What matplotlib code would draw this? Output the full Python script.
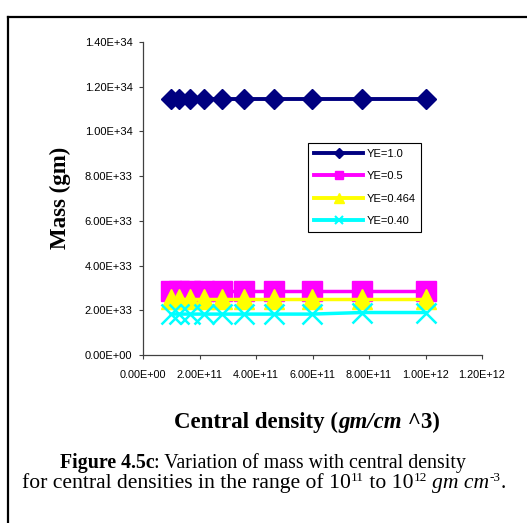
import matplotlib
matplotlib.use("Agg")
import matplotlib.pyplot as plt
from matplotlib.lines import Line2D

# ---- data ----
density = [1.0e11, 1.29e11, 1.67e11, 2.15e11, 2.78e11, 3.59e11, 4.64e11, 5.99e11, 7.74e11, 1.0e12]
mass_ye_100 = [1.145e34, 1.145e34, 1.145e34, 1.145e34, 1.145e34, 1.145e34, 1.145e34, 1.145e34, 1.145e34, 1.145e34]
mass_ye_050 = [2.87e33, 2.87e33, 2.87e33, 2.87e33, 2.87e33, 2.87e33, 2.87e33, 2.87e33, 2.87e33, 2.87e33]
mass_ye_0464 = [2.52e33, 2.52e33, 2.52e33, 2.52e33, 2.52e33, 2.52e33, 2.52e33, 2.52e33, 2.52e33, 2.52e33]
mass_ye_040 = [1.83e33, 1.83e33, 1.83e33, 1.83e33, 1.83e33, 1.83e33, 1.83e33, 1.83e33, 1.90e33, 1.90e33]
series_labels = ["YE=1.0", "YE=0.5", "YE=0.464", "YE=0.40"]

x_ticks = [0, 2e11, 4e11, 6e11, 8e11, 1e12, 1.2e12]
x_tick_labels = ["0.00E+00", "2.00E+11", "4.00E+11", "6.00E+11", "8.00E+11", "1.00E+12", "1.20E+12"]
y_ticks = [0, 2e33, 4e33, 6e33, 8e33, 1e34, 1.2e34, 1.4e34]
y_tick_labels = ["0.00E+00", "2.00E+33", "4.00E+33", "6.00E+33", "8.00E+33", "1.00E+34", "1.20E+34", "1.40E+34"]

W, H = 527, 523
fig = plt.figure(figsize=(W / 100, H / 100), dpi=100)
fig.patch.set_facecolor("white")

ax = fig.add_axes([143 / W, 1 - 355 / H, (482 - 143) / W, (355 - 42) / H])
ax.set_xlim(0, 1.2e12)
ax.set_ylim(0, 1.4e34)
for s in ("top", "right"):
    ax.spines[s].set_visible(False)
for s in ("left", "bottom"):
    ax.spines[s].set_color("#404040")
    ax.spines[s].set_linewidth(0.9)

navy, magenta, yellow, cyan = "#000080", "#ff00ff", "#ffff00", "#00ffff"

ax.plot(density, mass_ye_100, color=navy, lw=2.8, marker="D", ms=10.5,
        mfc=navy, mec=navy, zorder=3, clip_on=False)
ax.plot(density, mass_ye_050, color=magenta, lw=2.5, marker="s", ms=14,
        mfc=magenta, mec=magenta, zorder=4, clip_on=False)
ax.plot(density, mass_ye_0464, color=yellow, lw=2.5, marker="^", ms=14,
        mfc=yellow, mec=yellow, zorder=5, clip_on=False)
ax.plot(density, mass_ye_040, color=cyan, lw=2.5, marker="x", ms=14,
        mew=1.8, mfc=cyan, mec=cyan, zorder=6, clip_on=False)

ax.set_xticks(x_ticks)
ax.set_xticklabels(x_tick_labels, fontfamily="Liberation Sans", fontsize=7.8)
ax.set_yticks(y_ticks)
ax.set_yticklabels(y_tick_labels, fontfamily="Liberation Sans", fontsize=8)
ax.tick_params(axis="y", direction="out", length=3, width=0.8, pad=4.5, color="#404040")
ax.tick_params(axis="x", direction="out", length=3, width=0.8, pad=8, color="#404040")

handles = [
    Line2D([], [], color=navy, lw=2.8, marker="D", ms=5, mfc=navy, mec=navy),
    Line2D([], [], color=magenta, lw=2.8, marker="s", ms=5.5, mfc=magenta, mec=magenta),
    Line2D([], [], color=yellow, lw=2.8, marker="^", ms=6.5, mfc=yellow, mec=yellow),
    Line2D([], [], color=cyan, lw=2.8, marker="x", ms=6, mew=1.5, mfc=cyan, mec=cyan),
]
leg = ax.legend(handles, series_labels, loc="upper left",
                bbox_to_anchor=((308 - 143) / (482 - 143), (355 - 143) / (355 - 42)),
                frameon=True, fancybox=False, edgecolor="black", framealpha=1,
                prop={"family": "Liberation Sans", "size": 8}, handlelength=4.4,
                handletextpad=0.3, labelspacing=1.1, borderpad=0.55, borderaxespad=0)
leg.get_frame().set_linewidth(0.8)

def fx(px):
    return px / W

def fy(py):
    return 1 - py / H

# Axis titles
fig.text(fx(60), fy(198), "Mass (gm)", rotation=90, ha="center", va="center",
         fontfamily="Liberation Serif", fontweight="bold", fontsize=16.5)

renderer = fig.canvas.get_renderer()

def rich_line(xc, y_base, pieces):
    objs = []
    for txt, kw in pieces:
        kw = dict(kw)
        dy = kw.pop("dy", 0)
        t = fig.text(0, fy(y_base - dy), txt, va="baseline", ha="left",
                     fontfamily="Liberation Serif", **kw)
        objs.append(t)
    widths = [o.get_window_extent(renderer).width for o in objs]
    total = sum(widths)
    x = xc - total / 2
    for o, w in zip(objs, widths):
        o.set_x(fx(x))
        x += w

rich_line(307, 428, [
    ("Central density (", dict(fontsize=16.5, fontweight="bold")),
    ("gm/cm", dict(fontsize=16.5, fontweight="bold", fontstyle="italic")),
    (" ^3)", dict(fontsize=16.5, fontweight="bold")),
])

cap1 = 14.3
cap2 = 15.6
sup = 9.5
rich_line(263, 468, [
    ("Figure 4.5c", dict(fontsize=cap1, fontweight="bold")),
    (": Variation of mass with central density", dict(fontsize=cap1)),
])
rich_line(264, 488, [
    ("for central densities in the range of 10", dict(fontsize=cap2)),
    ("11", dict(fontsize=sup, dy=7)),
    (" to 10", dict(fontsize=cap2)),
    ("12", dict(fontsize=sup, dy=7)),
    (" ", dict(fontsize=cap2)),
    ("gm cm", dict(fontsize=cap2, fontstyle="italic")),
    ("-3", dict(fontsize=sup, dy=7)),
    (".", dict(fontsize=cap2)),
])

# Page border (left and top)
fig.add_artist(Line2D([fx(8), fx(8)], [fy(17), 0], transform=fig.transFigure,
                      color="black", lw=1.6))
fig.add_artist(Line2D([fx(8), 1], [fy(17), fy(17)], transform=fig.transFigure,
                      color="black", lw=1.6))

fig.savefig("out.png", dpi=100)
